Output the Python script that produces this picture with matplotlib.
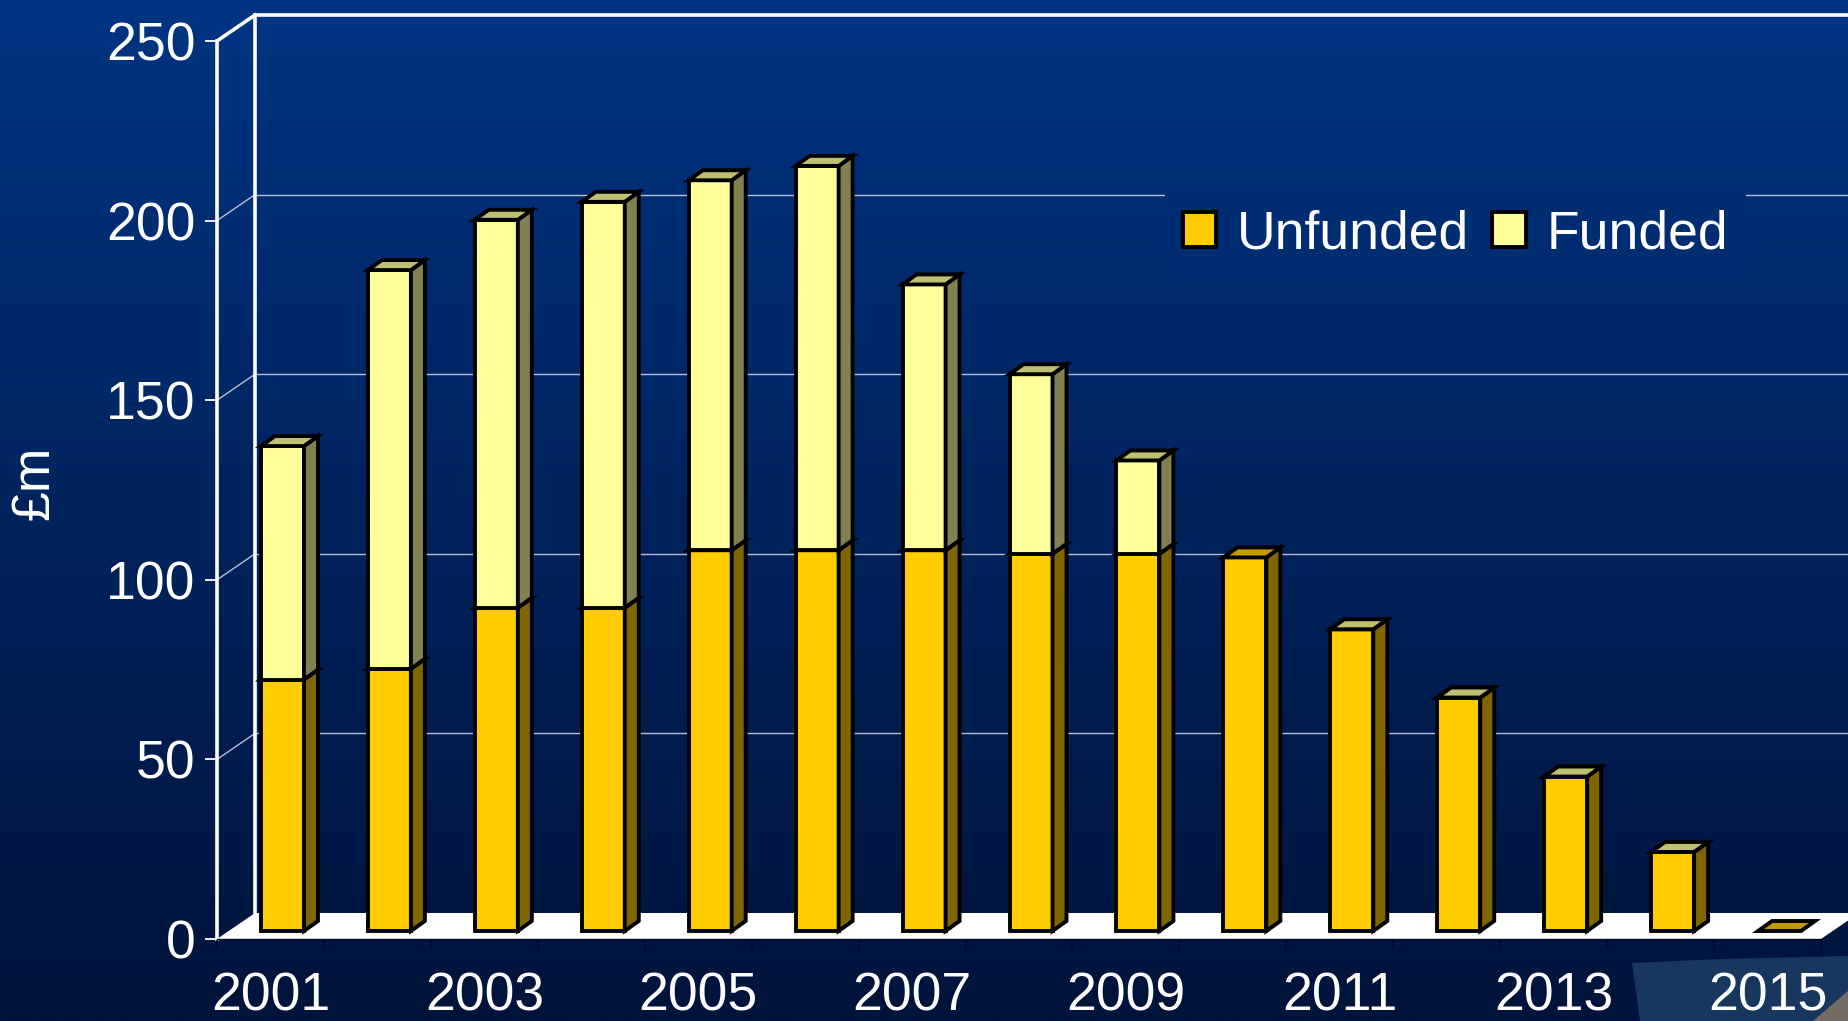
import numpy as np
import matplotlib.pyplot as plt
from matplotlib.patches import Polygon, Patch

plt.rcParams['font.family'] = ['Liberation Sans', 'DejaVu Sans']

# -- data (GBP m) --
years = list(range(2001, 2016))
unfunded = [70, 73, 90, 90, 106, 106, 106, 105, 105, 104, 84, 65, 43, 22, 0]
funded = [65, 111, 108, 113, 103, 107, 74, 50, 26, None, 0, 0, 0, 0, None]
yticks = [0, 50, 100, 150, 200, 250]
year_labels = [str(y) if (y - 2001) % 2 == 0 else '' for y in years]

# colours: front, side, top
unf_cols = ('#FFCC00', '#806600', '#C29A00')
fun_cols = ('#FFFF99', '#808050', '#C0C072')
top_c = np.array([0, 52, 130]) / 255.
bot_c = np.array([1, 19, 58]) / 255.

W, H = 1849, 1021
fig = plt.figure(figsize=(W / 100, H / 100), dpi=100)

# background gradient + slide decoration (pixel coords)
bg = fig.add_axes([0, 0, 1, 1])
t = np.linspace(0, 1, H)[:, None, None]
grad = top_c * (1 - t) + bot_c * t
bg.imshow(grad, extent=(0, W, H, 0), aspect='auto')
bg.set_xlim(0, W)
bg.set_ylim(H, 0)
bg.add_patch(Polygon([(1632, 963), (1720, 959), (1849, 956), (1849, 1021), (1640, 1021)],
                     closed=True, fc='#17375F', ec='none'))
bg.add_patch(Polygon([(1813, 1021), (1849, 990), (1849, 1021)], closed=True, fc='#756B62', ec='none'))
bg.axis('off')

# main axes = front plane of the 3d box
x0px, x1px, y0px, y1px = 217, 1821, 939, 41
ax = fig.add_axes([x0px / W, 1 - y0px / H, (x1px - x0px) / W, (y0px - y1px) / H])
ax.set_xlim(-0.5, 14.5)
ax.set_ylim(0, 250)
ax.patch.set_visible(False)

pxx = (x1px - x0px) / 15.
pxy = (y0px - y1px) / 250.
DX, DY = 38 / pxx, 26 / pxy          # wall depth
fx, fy = 12 / pxx, 8 / pxy           # bar front plane offset
bdx, bdy = 14 / pxx, 10 / pxy        # bar depth
bw = 43 / pxx                        # bar width
lw_edge = 2.8
lw_wall = 2.6

# walls and gridlines
for v in yticks:
    thick = v == 250
    col = 'white' if thick else '#B4BED8'
    lw = lw_wall if thick else 1.0
    if v > 0:
        ax.plot([-0.5, -0.5 + DX], [v, v + DY], color=col, lw=lw, clip_on=False, zorder=1)
        ax.plot([-0.5 + DX, 16], [v + DY, v + DY], color=col, lw=lw, clip_on=False, zorder=1)
ax.plot([-0.5 + DX, -0.5 + DX], [DY, 250 + DY], color='white', lw=lw_wall, clip_on=False, zorder=1)

floor = Polygon([(-0.5, 0), (14.5, 0), (14.5 + DX, DY), (-0.5 + DX, DY)], closed=True,
                fc='white', ec='none', clip_on=False, zorder=2)
ax.add_patch(floor)


def draw_box(i, base, h, cols, top_only=False):
    xa = i + fx - bw / 2
    xb = xa + bw
    ya = base + fy
    yb = ya + h
    kw = dict(closed=True, ec='black', lw=lw_edge, joinstyle='miter', clip_on=False, zorder=3)
    if not top_only and h > 0:
        ax.add_patch(Polygon([(xa, ya), (xb, ya), (xb, yb), (xa, yb)], fc=cols[0], **kw))
        ax.add_patch(Polygon([(xb, ya), (xb + bdx, ya + bdy), (xb + bdx, yb + bdy), (xb, yb)],
                             fc=cols[1], **kw))
    ax.add_patch(Polygon([(xa, yb), (xb, yb), (xb + bdx, yb + bdy), (xa + bdx, yb + bdy)],
                         fc=cols[2], **kw))


for i, (u, f) in enumerate(zip(unfunded, funded)):
    draw_box(i, 0, u, unf_cols)
    if f is not None:
        draw_box(i, u, f, fun_cols, top_only=(f == 0))

# axes styling
for s in ['top', 'right']:
    ax.spines[s].set_visible(False)
ax.spines['left'].set_color('white')
ax.spines['left'].set_linewidth(lw_wall)
ax.spines['left'].set_zorder(1)
ax.spines['bottom'].set_color('#000A25')
ax.spines['bottom'].set_linewidth(1)

ax.set_yticks(yticks)
ax.set_yticklabels([str(v) for v in yticks])
ax.tick_params(axis='y', colors='white', labelsize=38.5, length=8.6, width=1.3, pad=7)

ax.set_xticks(np.arange(-0.5, 15, 1))
ax.set_xticklabels([])
ax.tick_params(axis='x', which='major', length=8, width=1.2, color='#000A25')
ax.set_xticks(range(len(years)), minor=True)
ax.set_xticklabels(year_labels, minor=True)
ax.tick_params(axis='x', which='minor', length=0, labelsize=38.5, labelcolor='white', pad=23.5)

fig.text(35 / W, 1 - 483 / H, '£m', rotation=90, ha='center', va='center',
         fontsize=38.5, color='white')

# legend
ly = 234
leg_bg = tuple(top_c * (1 - ly / H) + bot_c * (ly / H))
handles = [Patch(fc=unf_cols[0], ec='black', lw=lw_edge),
           Patch(fc=fun_cols[0], ec='black', lw=lw_edge)]
leg = fig.legend(handles, ['Unfunded', 'Funded'], loc='center left',
                 bbox_to_anchor=(1165 / W, 1 - ly / H), ncol=2, fontsize=38.5,
                 frameon=True, facecolor=leg_bg, edgecolor='none', framealpha=1,
                 fancybox=False, borderpad=0.34, handlelength=0.62, handleheight=0.64,
                 handletextpad=0.39, columnspacing=0.43, borderaxespad=0, labelcolor='white')
leg.set_zorder(10)

fig.savefig('out.png', dpi=100)
